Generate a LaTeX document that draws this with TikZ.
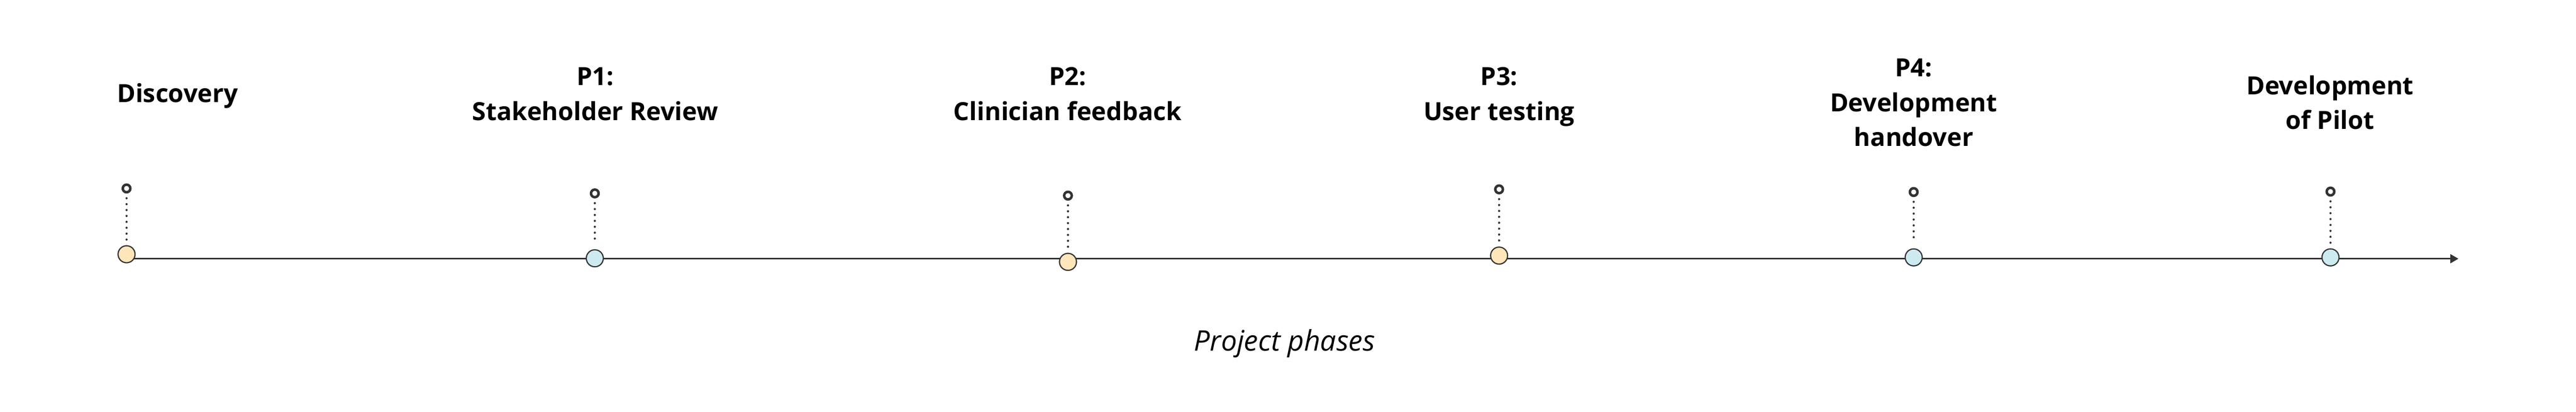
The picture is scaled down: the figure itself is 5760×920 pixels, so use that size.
\documentclass[tikz,border=0pt]{standalone}
\usepackage{fontspec}
\setmainfont{Open Sans}
\usetikzlibrary{arrows.meta}

\begin{document}
\begin{tikzpicture}[x=0.01cm, y=-0.01cm]
  \definecolor{ln}{HTML}{333333}
  \definecolor{o}{HTML}{FFE5BA}
  \definecolor{b}{HTML}{CDEAF0}
  \tikzset{
    marker/.style={circle, draw=ln, line width=0.75pt, minimum size=0.38cm, inner sep=0pt},
    pin/.style={circle, draw=ln, line width=1.6pt, minimum size=0.17cm, inner sep=0pt},
    pinline/.style={ln, line width=1.4pt, line cap=round, dash pattern=on 0pt off 3.75pt, shorten <=3pt, shorten >=3.4pt},
    phase/.style={font=\fontsize{15.9}{22.2}\selectfont\bfseries, align=center, anchor=base, inner sep=0pt}
  }
  \def\phases{
      283/568/421/o/Discovery/397/229,
      1330/577/432/b/P1:\\Stakeholder Review/1331/269,
      2388/585/437/o/P2:\\Clinician feedback/2387/269,
      3352/571/423/o/P3:\\User testing/3352/269,
      4279/575/429/b/P4:\\Development\\handover/4279/327,
      5211/575/428/b/Development\\of Pilot/5210/289
  }
  \useasboundingbox (0, 0) rectangle (5760, 920);

  \coordinate (start) at (283, 578);
  \coordinate (end) at (5497, 578);
  \draw [ln, line width=0.85pt, -{Triangle[length=0.18cm, width=0.2cm]}] (start) -- (end);

  \foreach \x/\m/\p/\c/\t/\lx/\ly [count=\i] in \phases {
      \node (m\i) at (\x, \m) [marker, fill=\c] {};
      \node (pin\i) at (\x, \p) [pin] {};
      \draw [pinline] (pin\i) -- (m\i);
      \node (lab\i) at (\lx, \ly) [phase] {\t};
  }

  \node (axislabel) at (2872, 784) [anchor=base, inner sep=0pt, font=\fontsize{18}{20}\selectfont\itshape] {Project phases};
\end{tikzpicture}
\end{document}
